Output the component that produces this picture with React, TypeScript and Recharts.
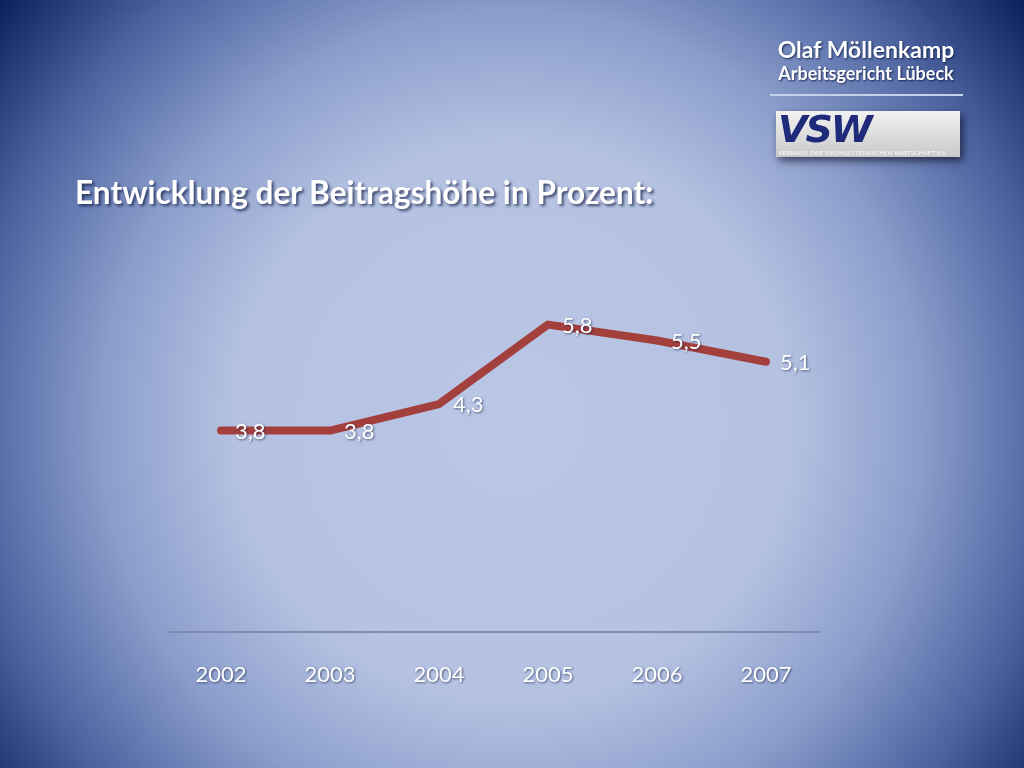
import React from 'react';
import { LineChart, Line, XAxis, YAxis, LabelList } from 'recharts';

const years = ['2002', '2003', '2004', '2005', '2006', '2007'];
const rates = [3.8, 3.8, 4.3, 5.8, 5.5, 5.1];

const data = years.map((year, i) => ({ year, rate: rates[i] }));

const shadow = 'drop-shadow(1px 1px 1px rgba(20,30,70,0.6))';

const ValueLabel = (props: any) => {
  const { x, y, value } = props;
  return (
    <text
      x={x + 14}
      y={y + 8}
      fill="#ffffff"
      fontSize={22}
      fontFamily="Lato, 'Open Sans', sans-serif"
      style={{ filter: shadow }}
    >
      {String(value).replace('.', ',')}
    </text>
  );
};

export default function App() {
  return (
    <div
      style={{
        position: 'fixed',
        left: 0,
        top: 0,
        width: 1024,
        height: 768,
        overflow: 'hidden',
        background:
          'radial-gradient(circle at 50% 55%, #bac6e5 0%, #b4c1e1 42%, #8a9dcb 62%, #4a619e 82%, #0b1f5f 100%)',
        fontFamily: 'Lato, sans-serif',
      }}
    >
      <div
        style={{
          position: 'absolute',
          left: 75,
          top: 173,
          color: '#ffffff',
          fontWeight: 700,
          fontSize: 31.6,
          textShadow: '2px 2px 3px rgba(10,20,60,0.7)',
          whiteSpace: 'nowrap',
        }}
      >
        Entwicklung der Beitragshöhe in Prozent:
      </div>

      <div
        style={{
          position: 'absolute',
          left: 766,
          width: 200,
          top: 35,
          textAlign: 'center',
          color: '#ffffff',
          fontWeight: 700,
          textShadow: '1px 1px 2px rgba(10,20,60,0.8)',
          whiteSpace: 'nowrap',
        }}
      >
        <div style={{ fontSize: 23, lineHeight: '28px' }}>Olaf Möllenkamp</div>
        <div style={{ fontSize: 18, lineHeight: '20px' }}>Arbeitsgericht Lübeck</div>
      </div>
      <div
        style={{
          position: 'absolute',
          left: 770,
          top: 94,
          width: 193,
          height: 2,
          background: '#c5d0ea',
        }}
      />
      <div
        style={{
          position: 'absolute',
          left: 776,
          top: 111,
          width: 184,
          height: 46,
          background: 'linear-gradient(to bottom, #f2f2f2, #c9c9c9)',
          boxShadow: '3px 4px 8px rgba(0,0,20,0.6)',
        }}
      >
        <div
          style={{
            position: 'absolute',
            left: 2,
            top: 1,
            fontSize: 38,
            lineHeight: '34px',
            fontWeight: 900,
            fontStyle: 'italic',
            fontFamily: "'DejaVu Sans', sans-serif",
            color: '#1f2a7a',
            letterSpacing: -2,
          }}
        >
          VSW
        </div>
        <div
          style={{
            position: 'absolute',
            left: 2,
            top: 38,
            fontSize: 6,
            lineHeight: '7px',
            color: '#ffffff',
            whiteSpace: 'nowrap',
            letterSpacing: 0.3,
          }}
        >
          VERBAND DER SÜDHOLSTEINISCHEN WIRTSCHAFT E.V.
        </div>
      </div>

      <div style={{ position: 'absolute', left: 0, top: 0 }}>
        <LineChart
          width={1024}
          height={768}
          data={data}
          margin={{ top: 261, right: 204, bottom: 106, left: 167 }}
        >
          <YAxis hide domain={[0, 7]} />
          <XAxis
            dataKey="year"
            height={30}
            padding={{ left: 54, right: 54 }}
            axisLine={{ stroke: '#7f8cae', strokeWidth: 2 }}
            tickLine={false}
            tickMargin={28}
            tick={{ fill: '#ffffff', fontSize: 22, fontFamily: "Lato, 'Open Sans', sans-serif", style: { filter: shadow } }}
          />
          <Line
            type="linear"
            dataKey="rate"
            stroke="#a3403e"
            strokeWidth={8}
            strokeLinejoin="round"
            strokeLinecap="round"
            dot={false}
            isAnimationActive={false}
          >
            <LabelList dataKey="rate" content={<ValueLabel />} />
          </Line>
        </LineChart>
      </div>
    </div>
  );
}
